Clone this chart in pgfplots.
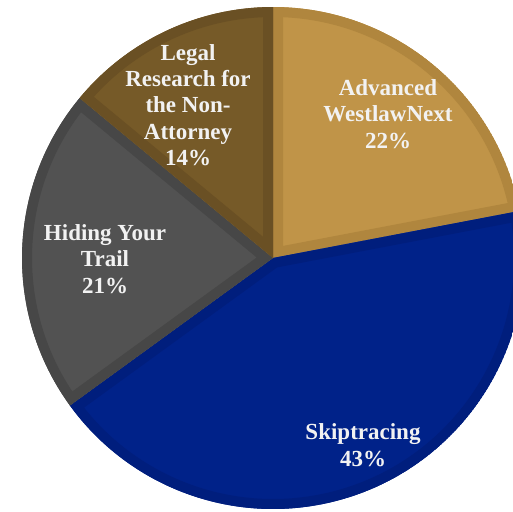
\documentclass[border=0pt]{standalone}
\usepackage{fontspec}
\setmainfont{Liberation Serif}
\usepackage{pgfplots}
\pgfplotsset{compat=1.18}
\definecolor{goldF}{HTML}{C09448}\definecolor{goldB}{HTML}{B0863E}
\definecolor{navyF}{HTML}{002289}\definecolor{navyB}{HTML}{001E7D}
\definecolor{grayF}{HTML}{525252}\definecolor{grayB}{HTML}{474747}
\definecolor{brownF}{HTML}{765A28}\definecolor{brownB}{HTML}{6A5024}
\definecolor{txt}{HTML}{F2F2F2}
% #1 cumulative percent before slice, #2 percent, #3 fill, #4 border
\newcommand{\pieslice}[4]{%
  \begin{scope}
    \clip (axis cs:273,253) -- +({90-3.6*#1}:125.5pt) arc[start angle={90-3.6*#1}, end angle={90-3.6*(#1+#2)}, radius=125.5pt] -- cycle;
    \fill[#3] (axis cs:273,253) -- +({90-3.6*#1}:125.5pt) arc[start angle={90-3.6*#1}, end angle={90-3.6*(#1+#2)}, radius=125.5pt] -- cycle;
    \draw[#4, line width=10pt, line join=miter] (axis cs:273,253) -- +({90-3.6*#1}:125.5pt) arc[start angle={90-3.6*#1}, end angle={90-3.6*(#1+#2)}, radius=125.5pt] -- cycle;
  \end{scope}}
\begin{document}
\begin{tikzpicture}
\useasboundingbox (0,0) rectangle (256.5pt,255.5pt);
\begin{axis}[
  at={(0,0)}, anchor=south west,
  scale only axis, width=256.5pt, height=255.5pt,
  xmin=0, xmax=513, ymin=0, ymax=511,
  hide axis, clip=true,
]
\addplot[draw=none] coordinates {(0,0) (513,511)};
\pieslice{0}{22}{goldF}{goldB}
\pieslice{22}{43}{navyF}{navyB}
\pieslice{65}{21}{grayF}{grayB}
\pieslice{86}{14}{brownF}{brownB}
\tikzset{lbl/.style={text=txt, align=center, font=\fontsize{11.5pt}{13.2pt}\selectfont\bfseries, inner sep=0pt}}
\node[lbl] at (axis cs:388,397) {Advanced\\WestlawNext\\22\%};
\node[lbl] at (axis cs:363,66) {Skiptracing\\43\%};
\node[lbl] at (axis cs:105,252) {Hiding Your\\Trail\\21\%};
\node[lbl] at (axis cs:188,406) {Legal\\Research for\\the Non-\\Attorney\\14\%};
\end{axis}
\end{tikzpicture}
\end{document}
